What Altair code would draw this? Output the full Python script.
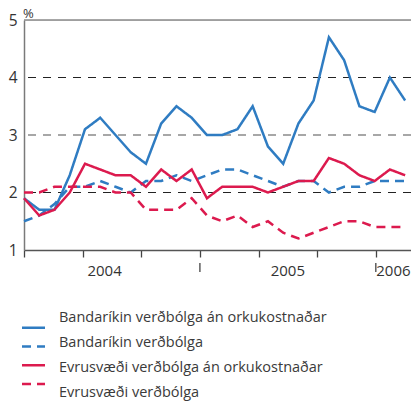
import altair as alt
import pandas as pd

FONT = "Open Sans"
BLUE = "#2f7cc2"
RED = "#dc1a4e"

# series names (legend order)
names = [
    "Bandaríkin verðbólga án orkukostnaðar",
    "Bandaríkin verðbólga",
    "Evrusvæði verðbólga án orkukostnaðar",
    "Evrusvæði verðbólga",
]

# monthly values, %, Jan 2004 - Feb 2006
us_core = [1.9, 1.7, 1.7, 2.3, 3.1, 3.3, 3.0, 2.7, 2.5, 3.2, 3.5, 3.3, 3.0,
           3.0, 3.1, 3.5, 2.8, 2.5, 3.2, 3.6, 4.7, 4.3, 3.5, 3.4, 4.0, 3.6]
us_cpi = [1.5, 1.6, 1.8, 2.1, 2.1, 2.2, 2.1, 2.0, 2.2, 2.2, 2.3, 2.2, 2.3,
          2.4, 2.4, 2.3, 2.2, 2.1, 2.2, 2.2, 2.0, 2.1, 2.1, 2.2, 2.2, 2.2]
ez_core = [1.9, 1.6, 1.7, 2.0, 2.5, 2.4, 2.3, 2.3, 2.1, 2.4, 2.2, 2.4, 1.9,
           2.1, 2.1, 2.1, 2.0, 2.1, 2.2, 2.2, 2.6, 2.5, 2.3, 2.2, 2.4, 2.3]
ez_cpi = [2.0, 2.0, 2.1, 2.1, 2.1, 2.1, 2.0, 2.0, 1.7, 1.7, 1.7, 1.9, 1.6,
          1.5, 1.6, 1.4, 1.5, 1.3, 1.2, 1.3, 1.4, 1.5, 1.5, 1.4, 1.4, 1.4]

# axis furniture
n_ticks = 27                      # month tick marks on the x axis
year_labels = ["2004", "2005", "2006"]
year_label_pos = [5.5, 18, 25.2]  # in tick units
year_separators = [12, 24]
y_ticks = [1, 2, 3, 4, 5]
grid_black = [2, 4]
grid_grey = [3]

series = [us_core, us_cpi, ez_core, ez_cpi]
n_pts = len(us_core)
rows = []
for name, vals in zip(names, series):
    for i, v in enumerate(vals):
        rows.append({"series": name, "x": i * (n_ticks - 1) / (n_pts - 1), "value": v})
df = pd.DataFrame(rows)
legend_df = pd.DataFrame({"series": names})

xscale = alt.Scale(domain=[0, 26.4], nice=False, zero=False)
yscale = alt.Scale(domain=[1, 5], nice=False, zero=False)
colscale = alt.Scale(domain=names, range=[BLUE, BLUE, RED, RED])
dashscale = alt.Scale(domain=names, range=[[1, 0], [9, 6], [1, 0], [9, 6]])
legend_y = alt.Y("series:N", scale=alt.Scale(domain=names, range=[298.3, 373.3], padding=0),
                 axis=None)

xaxis = alt.Axis(values=list(range(n_ticks)), labels=False, title=None, grid=False,
                 tickSize=7, tickColor="#444", tickWidth=1.3,
                 domainColor="#555", domainWidth=1.5)
yaxis = alt.Axis(values=y_ticks, format="d", title=None, grid=False, tickSize=0, labelPadding=7,
                 labelFontSize=15.5, labelFont=FONT, labelColor="#333",
                 domainColor="#7a7a7a", domainWidth=1.5)

grid1 = alt.Chart(pd.DataFrame({"g": grid_black})).mark_rule(
    color="#222", strokeWidth=1.1, strokeDash=[8, 7]).encode(
    y=alt.Y("g:Q", scale=yscale, axis=yaxis))
grid2 = alt.Chart(pd.DataFrame({"g": grid_grey})).mark_rule(
    color="#8a8a8a", strokeWidth=1.5, strokeDash=[8, 7]).encode(
    y=alt.Y("g:Q", scale=yscale, axis=None))
topline = alt.Chart(pd.DataFrame({"g": [5]})).mark_rule(color="#8a8a8a", strokeWidth=1.5).encode(
    y=alt.Y("g:Q", scale=yscale, axis=None))

lines = alt.Chart(df).mark_line(strokeWidth=2.5).encode(
    x=alt.X("x:Q", scale=xscale, axis=xaxis),
    y=alt.Y("value:Q", scale=yscale, axis=None),
    color=alt.Color("series:N", scale=colscale, legend=None),
    strokeDash=alt.StrokeDash("series:N", scale=dashscale, legend=None),
    order=alt.Order("x:Q"),
)

leg_sym = alt.Chart(legend_df).mark_rule(strokeWidth=2.5).encode(
    x=alt.value(-2), x2=alt.value(21), y=legend_y,
    color=alt.Color("series:N", scale=colscale, legend=None),
    strokeDash=alt.StrokeDash("series:N", scale=dashscale, legend=None),
)
leg_txt = alt.Chart(legend_df).mark_text(
    fontSize=14.5, font=FONT, color="#3a3a3a", align="left", baseline="middle").encode(
    x=alt.value(35), y=legend_y, text="series:N")

years = alt.Chart(pd.DataFrame({"label": year_labels, "pos": year_label_pos})).mark_text(
    fontSize=15, font=FONT, color="#333", baseline="middle", align="center").encode(
    x=alt.X("pos:Q", scale=xscale), y=alt.value(251), text="label:N")

seps = alt.Chart(pd.DataFrame({"pos": year_separators})).mark_rule(color="#444", strokeWidth=1.3).encode(
    x=alt.X("pos:Q", scale=xscale), y=alt.value(243), y2=alt.value(252))

pct = alt.Chart(pd.DataFrame({"t": ["%"]})).mark_text(
    fontSize=13, font=FONT, color="#333", align="left", baseline="alphabetic").encode(
    x=alt.value(-1), y=alt.value(-2.5), text="t:N")

chart = alt.layer(grid1, grid2, topline, lines, leg_sym, leg_txt, years, seps, pct).resolve_scale(
    y="independent"
).properties(
    width=387, height=230,
    autosize=alt.AutoSizeParams(type="none"),
    padding={"left": 16, "top": 12, "right": 0, "bottom": 155},
).configure_view(stroke=None).configure(background="white")

chart.save("out.html", embed_options={"renderer": "svg", "actions": False})
